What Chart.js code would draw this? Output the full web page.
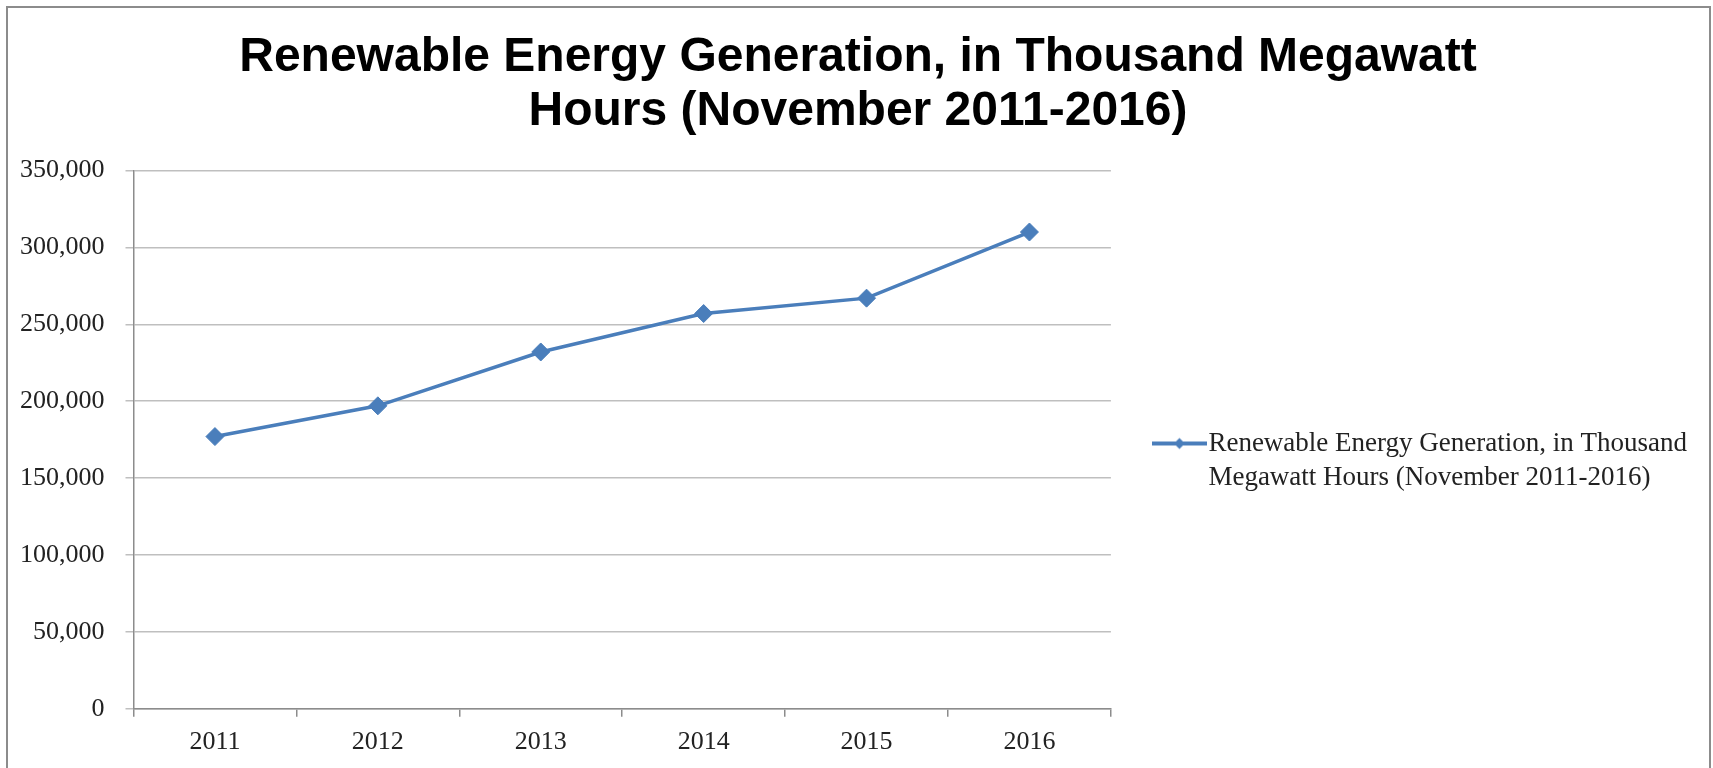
<!DOCTYPE html>
<html lang="en">
<head>
<meta charset="UTF-8">
<title>Renewable Energy Generation</title>
<script src="https://cdn.jsdelivr.net/npm/chart.js"></script>
<style>
    body { margin: 0; background: #fff; }
    .janela { position: relative; width: 1713px; height: 768px; overflow: hidden; }
    .moldura { position: absolute; left: 6px; top: 6px; width: 1701px; height: 780px; border: 2px solid #8c8c8c; pointer-events: none; }
</style>
</head>
<body>
<div class="janela">
    <canvas id="grafico" width="1713" height="768"></canvas>
    <div class="moldura"></div>
</div>

<script>
    // dados
    const anos = ['2011', '2012', '2013', '2014', '2015', '2016'];
    const geracao = [177000, 197000, 232000, 257000, 267000, 310000];
    const eixoMin = 0;
    const eixoMax = 350000;
    const eixoPasso = 50000;
    const titulo = ['Renewable Energy Generation, in Thousand Megawatt', 'Hours (November 2011-2016)'];
    const legenda = ['Renewable Energy Generation, in Thousand', 'Megawatt Hours (November 2011-2016)'];

    const azul = '#4a7ebb';
    const serif = "'Liberation Serif', 'Times New Roman', serif";
    const sans = "'Liberation Sans', Arial, sans-serif";

    // marcador da legenda: linha com losango
    function marcadorLegenda() {
        const c = document.createElement('canvas');
        c.width = 55;
        c.height = 16;
        const g = c.getContext('2d');
        g.strokeStyle = azul;
        g.lineWidth = 4;
        g.beginPath();
        g.moveTo(0, 8);
        g.lineTo(55, 8);
        g.stroke();
        g.fillStyle = azul;
        g.beginPath();
        g.moveTo(27.5, 2.5);
        g.lineTo(33, 8);
        g.lineTo(27.5, 13.5);
        g.lineTo(22, 8);
        g.closePath();
        g.fill();
        return c;
    }
    const marcador = marcadorLegenda();

    new Chart(document.getElementById('grafico'), {
        type: 'line',
        data: {
            labels: anos,
            datasets: [{
                label: legenda.join(' '),
                data: geracao,
                borderColor: azul,
                backgroundColor: azul,
                borderWidth: 3.5,
                pointStyle: 'rectRot',
                pointRadius: 9,
                pointBackgroundColor: azul,
                pointBorderColor: azul,
                pointBorderWidth: 1,
                tension: 0
            }]
        },
        options: {
            responsive: false,
            animation: false,
            devicePixelRatio: 1,
            layout: { padding: { left: 19, right: 16, top: 10, bottom: 0 } },
            plugins: {
                tooltip: { enabled: false },
                title: {
                    display: true,
                    text: titulo,
                    color: '#000',
                    font: { family: sans, size: 48, weight: 'bold', lineHeight: 1.125 },
                    padding: { top: 21, bottom: 31.5 }
                },
                legend: {
                    position: 'right',
                    maxWidth: 700,
                    // titulo vazio so para empurrar o item para baixo
                    title: { display: true, text: ' ', font: { size: 10, lineHeight: 1 }, padding: { top: 70, bottom: 70 } },
                    labels: {
                        color: '#222',
                        font: { family: serif, size: 27, lineHeight: 1.26 },
                        usePointStyle: true,
                        pointStyleWidth: 31,
                        padding: 53,
                        generateLabels(chart) {
                            const itens = Chart.defaults.plugins.legend.labels.generateLabels(chart);
                            itens.forEach(item => {
                                item.text = legenda;
                                item.pointStyle = marcador;
                            });
                            return itens;
                        }
                    }
                }
            },
            scales: {
                x: {
                    offset: true,
                    grid: { drawOnChartArea: false, drawTicks: true, tickLength: 8, color: '#8c8c8c', lineWidth: 1.5, offset: true },
                    border: { color: '#8c8c8c', width: 1.5 },
                    ticks: { color: '#222', font: { family: serif, size: 26 }, padding: 10 }
                },
                y: {
                    min: eixoMin,
                    max: eixoMax,
                    grid: { color: '#bfbfbf', lineWidth: 1.5, tickLength: 8 },
                    border: { color: '#8c8c8c', width: 1.5 },
                    ticks: { stepSize: eixoPasso, color: '#222', font: { family: serif, size: 26 }, padding: 21 },
                    afterFit(escala) { escala.width = 114.5; }
                }
            }
        }
    });
</script>
</body>
</html>
